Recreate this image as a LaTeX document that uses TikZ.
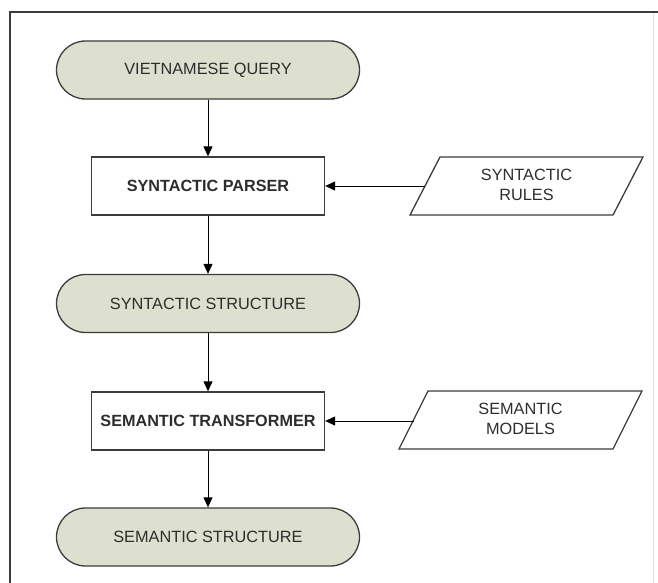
\documentclass[tikz,border=0pt]{standalone}
\usepackage{fontspec}
\setmainfont{Liberation Sans}
\usetikzlibrary{arrows.meta}
\definecolor{pillfill}{RGB}{221,224,206}
\definecolor{edgecol}{RGB}{60,60,60}
\definecolor{txtcol}{RGB}{45,45,45}
\tikzset{
  terminal/.style={draw=edgecol, line width=1.3pt, fill=pillfill, rounded corners=29pt,
    minimum width=303pt, minimum height=58pt, inner sep=0pt,
    font=\fontsize{16.3}{20}\selectfont, text=txtcol},
  process/.style={draw=edgecol, line width=1.3pt, fill=white,
    minimum width=233pt, minimum height=58pt, inner sep=0pt,
    font=\fontsize{16.2}{20}\selectfont\bfseries, text=txtcol},
  datalabel/.style={align=center, inner sep=0pt,
    font=\fontsize{16.3}{20}\selectfont, text=txtcol},
  dataedge/.style={draw=edgecol, line width=1.3pt, line join=miter},
  flow/.style={draw=black, line width=1pt, -{Triangle[length=10pt,width=9pt]}},
  framestyle/.style={draw=edgecol, line width=1.2pt},
}
\begin{document}
\begin{tikzpicture}[x=1pt,y=-1pt]
  \useasboundingbox (0,0) rectangle (658,583);
  % frame
  \draw[framestyle] (10,583) -- (10,12) -- (658,12);
  \draw[black!12, line width=1pt] (653,13) -- (653,583);

  % main column
  \node[terminal] (query) at (208,70) {VIETNAMESE QUERY};
  \node[process]  (parser) at (208,186) {SYNTACTIC PARSER};
  \node[terminal] (synstruct) at (208,303.5) {SYNTACTIC STRUCTURE};
  \node[process]  (transformer) at (208,421) {SEMANTIC TRANSFORMER};
  \node[terminal] (semstruct) at (208,537) {SEMANTIC STRUCTURE};

  % data inputs
  \draw[dataedge] (440,157) -- (643,157) -- (613,215) -- (410,215) -- cycle;
  \node[datalabel] (rules) at (526.5,185) {SYNTACTIC\\RULES};
  \coordinate (rulesin) at (425,186);

  \draw[dataedge] (428,391) -- (642,391) -- (613,449) -- (399,449) -- cycle;
  \node[datalabel] (models) at (520.5,419) {SEMANTIC\\MODELS};
  \coordinate (modelsin) at (413.5,421);

  % connectors
  \draw[flow] (query) -- (parser);
  \draw[flow] (parser) -- (synstruct);
  \draw[flow] (synstruct) -- (transformer);
  \draw[flow] (transformer) -- (semstruct);
  \draw[flow] (rulesin) -- (parser.east);
  \draw[flow] (modelsin) -- (transformer.east);
\end{tikzpicture}
\end{document}
